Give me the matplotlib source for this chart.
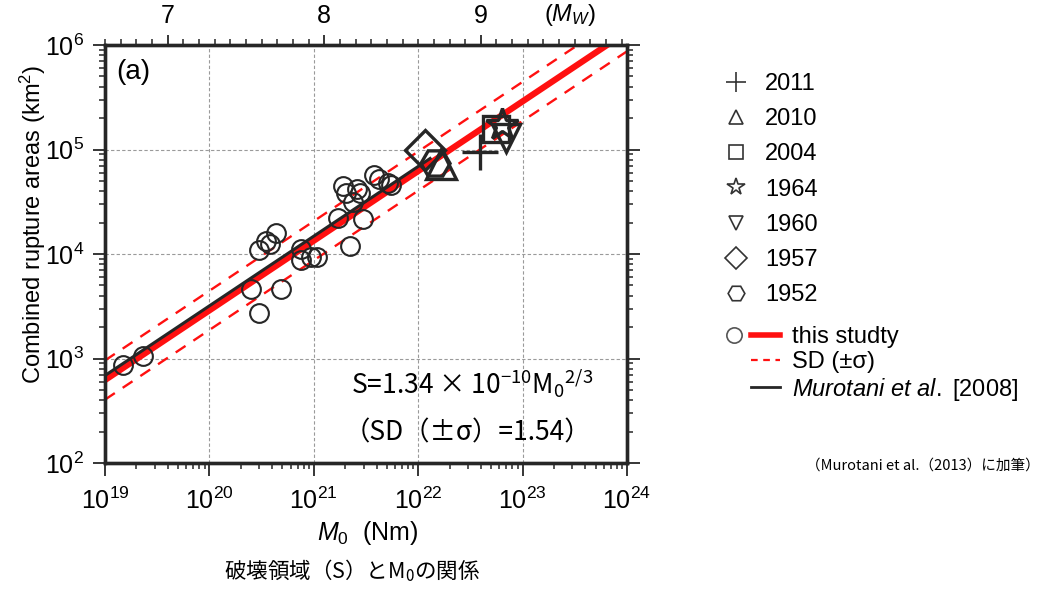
import matplotlib
matplotlib.use("Agg")
import matplotlib.pyplot as plt
from matplotlib.lines import Line2D
from matplotlib.legend_handler import HandlerTuple
from matplotlib.ticker import NullFormatter

plt.rcParams["font.family"] = ["Liberation Sans", "DejaVu Sans"]
plt.rcParams["mathtext.fontset"] = "custom"
plt.rcParams["mathtext.rm"] = "Liberation Sans"
plt.rcParams["mathtext.it"] = "Liberation Sans:italic"
plt.rcParams["mathtext.sf"] = "Noto Sans CJK JP"

# this study (open circles)
m0_circles = [1.5e19, 2.3e19, 2.5e20, 3.0e20, 4.9e20, 3.0e20, 3.5e20, 3.8e20, 4.3e20,
              7.6e20, 7.6e20, 9.5e20, 1.07e21, 2.2e21, 1.7e21, 2.95e21, 1.9e21, 2.05e21,
              2.6e21, 2.75e21, 2.4e21, 3.8e21, 4.2e21, 5.1e21, 5.5e21]
s_circles = [870, 1050, 4600, 2750, 4600, 11000, 13200, 12600, 15800,
             11200, 8700, 9300, 9300, 12000, 21900, 21400, 44700, 38000,
             41700, 38000, 31600, 57500, 52500, 47900, 45700]

# large events
years = ["2011", "2010", "2004", "1964", "1960", "1957", "1952"]
m0_events = [3.9e22, 1.66e22, 5.6e22, 6.3e22, 6.9e22, 1.15e22, 1.45e22]
s_events = [9.55e4, 7.2e4, 1.58e5, 1.70e5, 1.29e5, 9.8e4, 7.4e4]
markers = ["+", "^", "s", "*", "v", "D", "H"]
msizes = [26, 22, 19, 24, 20, 20, 21]
leg_sizes = [15, 10.5, 10.5, 13, 10.5, 11, 12]

# regression lines (end points)
line_m0 = [1e19, 1e24]
this_s = [622, 1.34e6]
sd_hi = [958, 2.06e6]
sd_lo = [404, 8.7e5]
mur_m0 = [1e19, 1.3e22]
mur_s = [687, 8.2e4]

mw_ticks = [7, 8, 9]

fig = plt.figure(figsize=(10.51, 5.90), dpi=100)
ax = fig.add_axes([105 / 1051, 1 - 463 / 590, 522 / 1051, 418 / 590])
ax.set_xscale("log")
ax.set_yscale("log")
ax.set_xlim(1e19, 1e24)
ax.set_ylim(1e2, 1e6)
ax.grid(True, which="major", color="#9a9a9a", lw=0.8, ls=(0, (3, 2)))
ax.set_axisbelow(True)

red = "#ff1010"
dark = "#262626"
ax.plot(line_m0, sd_hi, color=red, lw=1.7, ls=(0, (5, 4)), zorder=2)
ax.plot(line_m0, sd_lo, color=red, lw=1.7, ls=(0, (5, 4)), zorder=2)
ax.plot(line_m0, this_s, color=red, lw=4.5, zorder=3, solid_capstyle="butt")
ax.plot(mur_m0, mur_s, color=dark, lw=2.2, zorder=3)

ax.plot(m0_circles, s_circles, "o", ms=13.5, mfc="none", mec=dark, mew=1.5, zorder=4)
for m, s, mk, sz in zip(m0_events, s_events, markers, msizes):
    ax.plot(m, s, marker=mk, ms=sz, mfc="none", mec=dark, mew=2.4, ls="none", zorder=5)

for sp in ax.spines.values():
    sp.set_linewidth(2.4)
    sp.set_color(dark)
ax.tick_params(which="both", direction="out", color=dark, labelsize=18, right=True, top=False)
ax.tick_params(which="major", length=9, width=1.3, pad=6)
ax.tick_params(axis="x", which="major", pad=9)
ax.tick_params(which="minor", length=4, width=1.1)
ax.xaxis.set_minor_formatter(NullFormatter())
ax.yaxis.set_minor_formatter(NullFormatter())

# top Mw axis
ax2 = ax.twiny()
ax2.set_xscale("log")
ax2.set_xlim(ax.get_xlim())
ax2.set_xticks([10 ** (1.5 * m + 9.1) for m in mw_ticks])
ax2.set_xticklabels([str(m) for m in mw_ticks])
minor_mw = [6.6 + 0.1 * i for i in range(34)]
ax2.set_xticks([10 ** (1.5 * m + 9.1) for m in minor_mw if round(m, 1) not in mw_ticks], minor=True)
ax2.xaxis.set_minor_formatter(NullFormatter())
ax2.tick_params(which="both", direction="out", color=dark, labelsize=18)
ax2.tick_params(which="major", length=7, width=1.3, pad=5)
ax2.tick_params(which="minor", length=4, width=1.1)
for sp in ax2.spines.values():
    sp.set_linewidth(2.4)
    sp.set_color(dark)

ax.set_ylabel("Combined rupture areas (km$^2$)", fontsize=17)
ax.yaxis.set_label_coords(-0.11, 0.57)
fig.text(368 / 1051, 1 - 533 / 590, "$M_0$  (Nm)", fontsize=18, ha="center", va="center")
fig.text(570 / 1051, 1 - 15 / 590, r"$\mathit{(M_W)}$", fontsize=17, ha="center", va="center")

ax.text(0.022, 0.935, "(a)", transform=ax.transAxes, fontsize=20, ha="left", va="center")
ax.text(0.703, 0.191, r"S=1.34 × 10$^{\mathsf{-10}}$M$_{\mathsf{0}}$$^{\mathsf{2/3}}$",
        transform=ax.transAxes, family="Noto Sans CJK JP",
        fontsize=19, ha="center", va="center")
ax.text(0.695, 0.072, "（SD（±σ）=1.54）", transform=ax.transAxes, family="Noto Sans CJK JP",
        fontsize=19, ha="center", va="center")

fig.text(352 / 1051, 1 - 571 / 590, "破壊領域（S）と$\\mathsf{M_0}$の関係", family="Noto Sans CJK JP",
         fontsize=15.5, ha="center", va="center")
fig.text(1040 / 1051, 1 - 466 / 590, "（Murotani et al.（2013）に加筆）", family="Noto Sans CJK JP",
         fontsize=10.5, ha="right", va="center")

# legends
h_years = [Line2D([], [], ls="none", marker=mk, ms=sz, mfc="none", mec="#333333", mew=1.2)
           for mk, sz in zip(markers, leg_sizes)]
leg1 = fig.legend(h_years, years, loc="upper left", bbox_to_anchor=(727 / 1051, 1 - 73 / 590),
                  frameon=False, fontsize=17, handlelength=0.8, handletextpad=0.8,
                  labelspacing=0.56, borderpad=0, borderaxespad=0)

blank = Line2D([], [], ls="none")
h_circ = Line2D([], [], ls="none", marker="o", ms=11, mfc="none", mec="#555555", mew=1.2)
h_red = Line2D([], [], color=red, lw=4)
h_sd = Line2D([], [], color=red, lw=1.6, ls=(0, (3, 2.5)))
h_mur = Line2D([], [], color=dark, lw=2)
leg2 = fig.legend([(h_circ, h_red), (blank, h_sd), (blank, h_mur)],
                  ["this studty", "SD (±σ)", r"$\mathit{Murotani\ et\ al.}$ [2008]"],
                  handler_map={tuple: HandlerTuple(ndivide=None, pad=0.1)},
                  loc="upper left", bbox_to_anchor=(719 / 1051, 1 - 326 / 590),
                  frameon=False, fontsize=17, handlelength=2.6, handletextpad=0.5,
                  labelspacing=0.12, borderpad=0, borderaxespad=0)

fig.savefig("out.png", dpi=100)
